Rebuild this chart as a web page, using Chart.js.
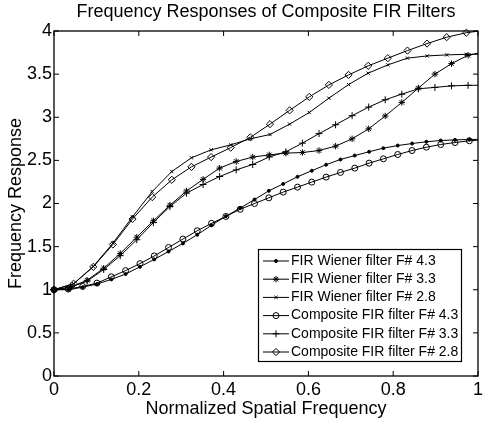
<!DOCTYPE html>
<html><head><meta charset="utf-8">
<script src="https://cdn.jsdelivr.net/npm/chart.js@4.4.1/dist/chart.umd.min.js"></script>
<style>html,body{margin:0;padding:0;background:#fff}canvas{display:block}</style>
</head><body>
<canvas id="c" width="483" height="423"></canvas>
<script>
const titleText = 'Frequency Responses of Composite FIR Filters';
const xAxisLabel = 'Normalized Spatial Frequency';
const yAxisLabel = 'Frequency Response';
const xTickLabels = ['0', '0.2', '0.4', '0.6', '0.8', '1'];
const yTickLabels = ['0', '0.5', '1', '1.5', '2', '2.5', '3', '3.5', '4'];
const seriesLabels = [
  'FIR Wiener filter F# 4.3',
  'FIR Wiener filter F# 3.3',
  'FIR Wiener filter F# 2.8',
  'Composite FIR filter F# 4.3',
  'Composite FIR filter F# 3.3',
  'Composite FIR filter F# 2.8'
];

// sample frequencies (normalized) of each F# family
const freqF43 = [0, 0.0338, 0.0676, 0.1013, 0.1351, 0.1689, 0.2027, 0.2365, 0.2702, 0.3040, 0.3378, 0.3716, 0.4054, 0.4391, 0.4729, 0.5067, 0.5405, 0.5743, 0.6080, 0.6418, 0.6756, 0.7094, 0.7432, 0.7769, 0.8107, 0.8445, 0.8783, 0.9121, 0.9458, 0.9796, 1.0134];
const freqF33 = [0, 0.0391, 0.0781, 0.1172, 0.1562, 0.1953, 0.2344, 0.2734, 0.3125, 0.3516, 0.3906, 0.4297, 0.4687, 0.5078, 0.5469, 0.5859, 0.6250, 0.6641, 0.7031, 0.7422, 0.7812, 0.8203, 0.8594, 0.8984, 0.9375, 0.9766, 1.0156];
const freqF28 = [0, 0.0463, 0.0926, 0.1389, 0.1852, 0.2316, 0.2779, 0.3242, 0.3705, 0.4168, 0.4631, 0.5094, 0.5557, 0.6020, 0.6483, 0.6947, 0.7410, 0.7873, 0.8336, 0.8799, 0.9262, 0.9725, 1.0188];

// responses
const wiener43 = [1.0, 1.0, 1.03, 1.066, 1.12, 1.182, 1.266, 1.352, 1.444, 1.537, 1.638, 1.748, 1.852, 1.947, 2.046, 2.147, 2.227, 2.31, 2.38, 2.45, 2.51, 2.556, 2.6, 2.642, 2.672, 2.695, 2.716, 2.73, 2.738, 2.742, 2.745];
const wiener33 = [1.0, 1.03, 1.11, 1.25, 1.42, 1.61, 1.80, 1.98, 2.145, 2.28, 2.41, 2.487, 2.538, 2.564, 2.584, 2.591, 2.614, 2.665, 2.75, 2.866, 3.015, 3.172, 3.338, 3.5, 3.622, 3.718, 3.76];
const wiener28 = [1.0, 1.07, 1.27, 1.54, 1.845, 2.139, 2.371, 2.53, 2.622, 2.68, 2.75, 2.80, 2.92, 3.055, 3.221, 3.379, 3.511, 3.607, 3.685, 3.711, 3.723, 3.73, 3.73];
const composite43 = [1.0, 1.008, 1.038, 1.077, 1.15, 1.222, 1.303, 1.392, 1.49, 1.588, 1.684, 1.77, 1.85, 1.933, 2.0, 2.066, 2.132, 2.19, 2.248, 2.306, 2.36, 2.41, 2.468, 2.518, 2.568, 2.614, 2.653, 2.684, 2.707, 2.727, 2.74];
const composite33 = [1.0, 1.03, 1.10, 1.235, 1.395, 1.58, 1.78, 1.965, 2.12, 2.22, 2.313, 2.39, 2.452, 2.54, 2.6, 2.70, 2.81, 2.913, 3.018, 3.118, 3.203, 3.268, 3.33, 3.346, 3.364, 3.37, 3.372];
const composite28 = [1.0, 1.07, 1.265, 1.525, 1.82, 2.074, 2.275, 2.425, 2.538, 2.648, 2.767, 2.92, 3.08, 3.236, 3.375, 3.491, 3.596, 3.685, 3.773, 3.854, 3.928, 3.98, 4.01];

const FONT = "'Liberation Sans', Arial, Helvetica, sans-serif";
Chart.defaults.font.family = FONT;
Chart.defaults.color = '#000';

function toPoints(xs, ys) { return xs.map((x, i) => ({x: x, y: ys[i]})); }

const markerStyles = [
  {pointStyle: 'circle', pointRadius: 1.5, fill: '#000'},
  {pointStyle: 'star', pointRadius: 3.2, fill: 'rgba(0,0,0,0)'},
  {pointStyle: 'crossRot', pointRadius: 2.3, fill: 'rgba(0,0,0,0)'},
  {pointStyle: 'circle', pointRadius: 3, fill: 'rgba(0,0,0,0)'},
  {pointStyle: 'cross', pointRadius: 3.5, fill: 'rgba(0,0,0,0)'},
  {pointStyle: 'rectRot', pointRadius: 3.6, fill: 'rgba(0,0,0,0)'}
];
const seriesData = [
  toPoints(freqF43, wiener43),
  toPoints(freqF33, wiener33),
  toPoints(freqF28, wiener28),
  toPoints(freqF43, composite43),
  toPoints(freqF33, composite33),
  toPoints(freqF28, composite28)
];

const datasets = seriesData.map((d, i) => ({
  label: seriesLabels[i],
  data: d,
  borderColor: '#000',
  borderWidth: 1,
  pointStyle: markerStyles[i].pointStyle,
  pointRadius: markerStyles[i].pointRadius,
  pointBackgroundColor: markerStyles[i].fill,
  pointBorderColor: '#000',
  pointBorderWidth: 1,
  tension: 0,
  fill: false,
  clip: {left: 6, top: 6, right: 0, bottom: 6}
}));

function drawMarker(ctx, style, r, x, y, fill) {
  ctx.save();
  ctx.beginPath();
  if (style === 'circle') {
    ctx.arc(x, y, r, 0, Math.PI * 2);
    ctx.fillStyle = fill; ctx.fill(); ctx.stroke();
  } else if (style === 'rectRot') {
    ctx.moveTo(x, y - r); ctx.lineTo(x + r, y); ctx.lineTo(x, y + r); ctx.lineTo(x - r, y); ctx.closePath();
    ctx.stroke();
  } else {
    if (style === 'cross' || style === 'star') {
      ctx.moveTo(x - r, y); ctx.lineTo(x + r, y); ctx.moveTo(x, y - r); ctx.lineTo(x, y + r);
    }
    if (style === 'crossRot' || style === 'star') {
      const d = r * Math.SQRT1_2;
      ctx.moveTo(x - d, y - d); ctx.lineTo(x + d, y + d); ctx.moveTo(x - d, y + d); ctx.lineTo(x + d, y - d);
    }
    ctx.stroke();
  }
  ctx.restore();
}

const framePlugin = {
  id: 'frame',
  afterDatasetsDraw(chart) {
    const {ctx, chartArea: a, scales} = chart;
    ctx.save();
    ctx.strokeStyle = '#000';
    ctx.lineWidth = 1.3;
    ctx.strokeRect(a.left, a.top, a.right - a.left, a.bottom - a.top);
    const tl = 5;
    ctx.lineWidth = 1;
    ctx.beginPath();
    scales.x.ticks.forEach(t => {
      const px = scales.x.getPixelForValue(t.value);
      ctx.moveTo(px, a.bottom); ctx.lineTo(px, a.bottom - tl);
      ctx.moveTo(px, a.top); ctx.lineTo(px, a.top + tl);
    });
    scales.y.ticks.forEach(t => {
      const py = scales.y.getPixelForValue(t.value);
      ctx.moveTo(a.left, py); ctx.lineTo(a.left + tl, py);
      ctx.moveTo(a.right, py); ctx.lineTo(a.right - tl, py);
    });
    ctx.stroke();
    ctx.restore();
  }
};

const legendPlugin = {
  id: 'insideLegend',
  afterDraw(chart) {
    const {ctx, chartArea: a} = chart;
    const right = a.right - 16.5, bottom = a.bottom - 14.5;
    const w = 203, h = 112;
    const left = right - w, top = bottom - h;
    ctx.save();
    ctx.fillStyle = '#fff';
    ctx.fillRect(left, top, w, h);
    ctx.strokeStyle = '#000';
    ctx.lineWidth = 1.2;
    ctx.strokeRect(left, top, w, h);
    ctx.lineWidth = 1;
    ctx.font = '14px ' + FONT;
    ctx.textBaseline = 'middle';
    ctx.textAlign = 'left';
    chart.data.datasets.forEach((ds, i) => {
      const y = top + 11.5 + i * 18.2;
      ctx.beginPath();
      ctx.moveTo(left + 4.5, y); ctx.lineTo(left + 30.5, y);
      ctx.stroke();
      drawMarker(ctx, ds.pointStyle, ds.pointRadius, left + 17.5, y, ds.pointBackgroundColor);
      ctx.fillStyle = '#000';
      ctx.fillText(ds.label, left + 32.5, y);
    });
    ctx.restore();
  }
};

new Chart(document.getElementById('c'), {
  type: 'line',
  data: {datasets: datasets},
  options: {
    responsive: false,
    animation: false,
    events: [],
    layout: {padding: {left: 0, right: 1, top: 0, bottom: 0}},
    plugins: {
      legend: {display: false},
      tooltip: {enabled: false},
      title: {
        display: true, text: titleText, fullSize: false,
        font: {size: 18, weight: 'normal', family: FONT}, color: '#000',
        padding: {top: 1, bottom: 8.4}
      }
    },
    scales: {
      x: {
        type: 'linear', min: 0, max: 1,
        ticks: {stepSize: 0.2, padding: 3, autoSkip: false, maxRotation: 0,
          font: {size: 18, family: FONT}, color: '#000',
          callback: (v, i) => xTickLabels[i]},
        grid: {display: false, drawTicks: false, tickLength: 0},
        border: {display: false},
        title: {display: true, text: xAxisLabel, font: {size: 18, family: FONT}, color: '#000', padding: {top: 0, bottom: 3}},
        afterFit(s) { s.height = 47; s.paddingLeft = 0; s.paddingRight = 0; }
      },
      y: {
        type: 'linear', min: 0, max: 4,
        ticks: {stepSize: 0.5, padding: 2, autoSkip: false,
          font: {size: 18, family: FONT}, color: '#000',
          callback: (v, i) => yTickLabels[i]},
        grid: {display: false, drawTicks: false, tickLength: 0},
        border: {display: false},
        title: {display: true, text: yAxisLabel, font: {size: 18, family: FONT}, color: '#000', padding: {top: 5, bottom: 0}},
        afterFit(s) { s.width = 54; s.paddingTop = 0; s.paddingBottom = 0; }
      }
    }
  },
  plugins: [framePlugin, legendPlugin]
});
</script>
</body></html>
